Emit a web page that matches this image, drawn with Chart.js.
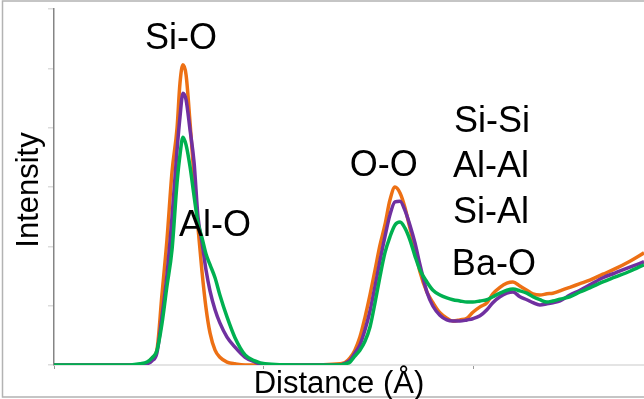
<!DOCTYPE html>
<html>
<head>
<meta charset="utf-8">
<script src="https://cdn.jsdelivr.net/npm/chart.js@4.4.1/dist/chart.umd.min.js"></script>
<style>
  html, body { margin: 0; padding: 0; background: #fff; }
  #wrap { width: 644px; height: 399px; position: relative; }
</style>
</head>
<body>
<div id="wrap"><canvas id="c" width="644" height="399"></canvas></div>
<script>
// Pair distance r (Å) shared by all three curves
const distance = [
  1.000, 1.362, 1.410, 1.443, 1.467, 1.490, 1.514, 1.538, 1.562, 1.586,
  1.600, 1.614, 1.629, 1.648, 1.667, 1.686, 1.705, 1.724, 1.743, 1.767,
  1.790, 1.824, 1.862, 1.910, 1.957, 2.005, 2.171, 2.362, 2.386, 2.410,
  2.433, 2.457, 2.481, 2.505, 2.529, 2.552, 2.576, 2.600, 2.624, 2.648,
  2.671, 2.695, 2.719, 2.743, 2.776, 2.805, 2.838, 2.871, 2.900, 2.933,
  2.967, 2.995, 3.029, 3.062, 3.090, 3.124, 3.157, 3.186, 3.219, 3.252,
  3.281, 3.314, 3.348, 3.376, 3.410, 3.457, 3.505, 3.552, 3.614, 3.671,
  3.743, 3.810
];

const intensityOrange = [
  0, 0, 0, 0.03, 0.12, 0.25, 1.18, 2.11, 3.25, 3.99,
  4.75, 5.06, 4.89, 4.08, 3.17, 2.31, 1.57, 0.96, 0.54, 0.25,
  0.13, 0.05, 0.02, 0, 0, 0, 0, 0.02, 0.04, 0.12,
  0.25, 0.47, 0.80, 1.18, 1.60, 2.01, 2.36, 2.78, 3.00, 2.90,
  2.66, 2.31, 1.96, 1.57, 1.23, 1.05, 0.88, 0.79, 0.74, 0.76,
  0.79, 0.89, 0.98, 1.05, 1.20, 1.31, 1.38, 1.40, 1.33, 1.26,
  1.20, 1.18, 1.20, 1.21, 1.25, 1.31, 1.37, 1.43, 1.53, 1.62,
  1.75, 1.89
];

const intensityPurple = [
  0, 0, 0, 0.02, 0.07, 0.20, 0.81, 1.52, 2.49, 3.62,
  4.18, 4.58, 4.47, 3.96, 3.42, 2.49, 2.06, 1.60, 1.25, 0.93,
  0.71, 0.47, 0.30, 0.13, 0.05, 0, 0, 0, 0.03, 0.08,
  0.20, 0.34, 0.59, 0.91, 1.33, 1.75, 2.16, 2.53, 2.75, 2.76,
  2.61, 2.36, 2.06, 1.69, 1.23, 0.99, 0.84, 0.76, 0.74, 0.74,
  0.76, 0.78, 0.83, 0.93, 1.05, 1.15, 1.21, 1.23, 1.15, 1.10,
  1.05, 1.01, 1.03, 1.05, 1.08, 1.18, 1.26, 1.35, 1.47, 1.55,
  1.65, 1.74
];

const intensityGreen = [
  0, 0, 0.02, 0.05, 0.12, 0.24, 0.69, 1.33, 1.94, 3.07,
  3.54, 3.84, 3.71, 3.34, 2.85, 2.39, 2.14, 1.87, 1.69, 1.47,
  1.18, 0.81, 0.46, 0.17, 0.07, 0.02, 0, 0, 0.02, 0.05,
  0.15, 0.25, 0.40, 0.64, 1.05, 1.48, 1.89, 2.16, 2.36, 2.41,
  2.31, 2.11, 1.84, 1.60, 1.40, 1.26, 1.18, 1.13, 1.10, 1.08,
  1.06, 1.06, 1.08, 1.10, 1.15, 1.21, 1.26, 1.28, 1.25, 1.21,
  1.15, 1.10, 1.06, 1.08, 1.11, 1.15, 1.23, 1.30, 1.40, 1.48,
  1.58, 1.69
];

// Axis ticks (unlabelled marks)
const distanceTicks = [1, 2, 3];
const intensityTicks = [0, 1, 2, 3, 4, 5, 6];

// Peak assignments, anchored at (distance, intensity)
const peakNames = ['Si-O', 'Al-O', 'O-O', 'Si-Si', 'Al-Al', 'Si-Al', 'Ba-O'];
const peakAtDistance = [1.605, 1.767, 2.571, 3.086, 3.081, 3.081, 3.095];
const peakAtIntensity = [5.55, 2.385, 3.40, 4.15, 3.39, 2.61, 1.74];

const FONT = '"Liberation Sans", Arial, Helvetica, sans-serif';

function series(values) {
  return distance.map((d, i) => ({ x: d, y: values[i] }));
}

const decorations = {
  id: 'decorations',
  beforeDraw(chart) {
    const ctx = chart.ctx;
    ctx.save();
    ctx.fillStyle = '#fff';
    ctx.fillRect(0, 0, chart.width, chart.height);
    // outer frame
    ctx.strokeStyle = '#b3b3b3';
    ctx.lineWidth = 1.5;
    ctx.beginPath();
    ctx.moveTo(chart.width, 1);
    ctx.lineTo(2.5, 1);
    ctx.lineTo(2.5, 397);
    ctx.lineTo(chart.width, 397);
    ctx.stroke();
    ctx.restore();
  },
  afterDraw(chart) {
    const ctx = chart.ctx;
    const xs = chart.scales.x, ys = chart.scales.y;
    ctx.save();
    ctx.fillStyle = '#000';
    ctx.textAlign = 'center';
    ctx.textBaseline = 'alphabetic';
    const size = 36;
    ctx.font = size + 'px ' + FONT;
    peakNames.forEach((name, i) => {
      const px = xs.getPixelForValue(peakAtDistance[i]);
      const py = ys.getPixelForValue(peakAtIntensity[i]);
      ctx.fillText(name, px, py + size * 0.358);
    });
    // axis titles
    ctx.font = '31px ' + FONT;
    ctx.fillText('Distance (Å)', 339, 393);
    ctx.translate(38, 190);
    ctx.rotate(-Math.PI / 2);
    ctx.fillText('Intensity', 0, 0);
    ctx.restore();
  }
};

new Chart(document.getElementById('c'), {
  type: 'line',
  data: {
    datasets: [
      { label: 'green', data: series(intensityGreen), borderColor: '#00b050', order: 0 },
      { label: 'purple', data: series(intensityPurple), borderColor: '#7030a0', order: 1 },
      { label: 'orange', data: series(intensityOrange), borderColor: '#ed7014', order: 2 }
    ]
  },
  options: {
    responsive: false,
    animation: false,
    devicePixelRatio: 1,
    layout: { padding: { top: 9, right: 0, left: 0, bottom: 0 } },
    elements: {
      point: { radius: 0 },
      line: { borderWidth: 3.5, cubicInterpolationMode: 'monotone', fill: false }
    },
    plugins: { legend: { display: false }, tooltip: { enabled: false } },
    scales: {
      x: {
        type: 'linear',
        min: 1,
        max: 3.81,
        afterBuildTicks(scale) { scale.ticks = distanceTicks.map(v => ({ value: v })); },
        afterFit(scale) { scale.height = 34; },
        ticks: { display: false },
        grid: { drawOnChartArea: false, drawTicks: true, tickLength: 4, color: '#9a9a9a', lineWidth: 1 },
        border: { display: true, color: '#e4e4e4', width: 2 }
      },
      y: {
        min: 0,
        max: 6,
        afterBuildTicks(scale) { scale.ticks = intensityTicks.map(v => ({ value: v })); },
        afterFit(scale) { scale.width = 54; },
        ticks: { display: false },
        grid: { drawOnChartArea: false, drawTicks: true, tickLength: 6, color: '#dcdcdc', lineWidth: 1.5 },
        border: { display: true, color: '#858585', width: 1.5 }
      }
    }
  },
  plugins: [decorations]
});
</script>
</body>
</html>
